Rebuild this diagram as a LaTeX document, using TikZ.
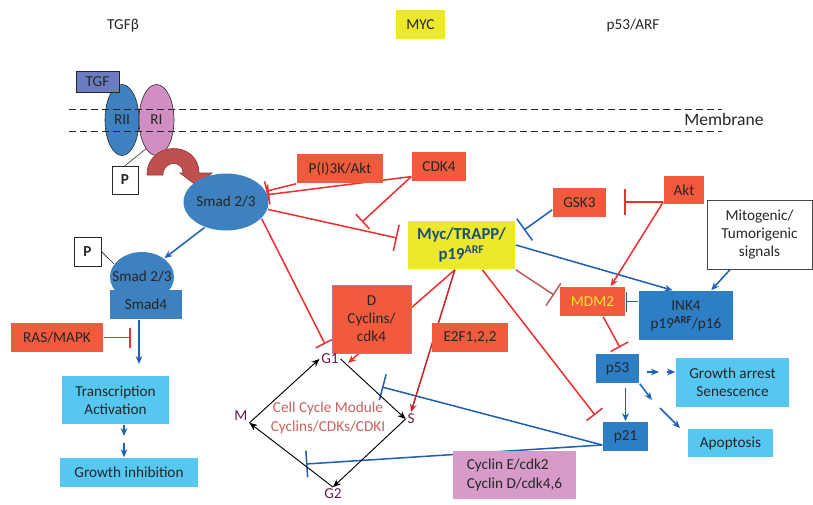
\documentclass[tikz,border=0pt]{standalone}
\usepackage{fontspec}
\setmainfont{Carlito}
\usetikzlibrary{arrows.meta, shapes.geometric}

\pgfdeclarelayer{background}
\pgfsetlayers{background,main}

\definecolor{txtgray}{HTML}{262626}
\definecolor{boxred}{HTML}{F15A3C}
\definecolor{linered}{HTML}{EE2F31}
\definecolor{darkred}{HTML}{C1262E}
\definecolor{brownred}{HTML}{B85C5C}
\definecolor{lineblue}{HTML}{2060B0}
\definecolor{smadblue}{HTML}{3D81C0}
\definecolor{boxblue}{HTML}{2E7EC5}
\definecolor{skyblue}{HTML}{55C7F1}
\definecolor{mycyellow}{HTML}{ECE82B}
\definecolor{myctext}{HTML}{1F4E79}
\definecolor{cycpink}{HTML}{D69BC8}
\definecolor{ripink}{HTML}{D18EC2}
\definecolor{tgfblue}{HTML}{6B7CC2}
\definecolor{phasetext}{HTML}{6A1B4D}
\definecolor{moduletext}{HTML}{C8615D}
\definecolor{mdmtext}{HTML}{FFE333}
\definecolor{curvred}{HTML}{C0504D}

\begin{document}
\begin{tikzpicture}[x=0.03cm, y=-0.03cm, >={Stealth[length=2.4mm,width=2mm]},
  line width=1.3pt, font=\fontsize{13}{15.5}\selectfont, text=txtgray,
  box/.style={rectangle, inner sep=0pt, align=center},
  redbox/.style={box, fill=boxred},
  bluebox/.style={box, fill=boxblue},
  skybox/.style={box, fill=skyblue},
  pbox/.style={box, draw=txtgray, fill=white, line width=0.6pt, font=\fontsize{13}{15.5}\selectfont\bfseries},
  phase/.style={inner sep=1pt, text=phasetext},
  act/.style={->, draw=lineblue},
  inh/.style={-{Bar[width=0.8cm]}},
  shortinh/.style={-{Bar[width=0.6cm]}},
  cycarrow/.style={->, draw=black, line width=0.8pt}]

\useasboundingbox (0,0) rectangle (813,504);

% Define coordinates
\coordinate (tx_in) at (139,364);
\coordinate (ras_end) at (131,337.5);
\coordinate (step_a) at (124,436);
\coordinate (step_b) at (124,443);
\coordinate (gsk_end) at (524,230);
\coordinate (ga_a) at (659,372);
\coordinate (ga_b) at (667,372);
\coordinate (apo_a) at (652,400);
\coordinate (apo_b) at (660,408);
\coordinate (apo_end) at (680,428);
\coordinate (s_bar) at (382,387);
\coordinate (g2_bar) at (306,464);
\coordinate (cdk_bar) at (362,222);
\coordinate (myc_bar) at (397,238);
\coordinate (g1_bar) at (325,344);
\coordinate (g1_in) at (348,363);
\coordinate (p21_bar) at (595,415);
\coordinate (akt_bar) at (624,202);
\coordinate (mdm_bar) at (554,295);

% Titles
\node (tgfb_title) at (123,26) {TGFβ};
\node[box, fill=mycyellow, minimum width=1.47cm, minimum height=0.87cm] (myc_title) at (420.5,24.5) {MYC};
\node (p53_title) at (633,25) {p53/ARF};

% Receptor in the membrane
\node[ellipse, draw=txtgray, line width=0.5pt, fill=smadblue, minimum width=1.02cm, minimum height=2.13cm, inner sep=0pt] (rii) at (122,120) {RII};
\node[ellipse, draw=txtgray, line width=0.5pt, fill=ripink, minimum width=1.05cm, minimum height=2.13cm, inner sep=0pt] (ri) at (156.5,120) {RI};
\node[box, draw=txtgray, line width=0.6pt, fill=tgfblue, minimum width=1.29cm, minimum height=0.63cm] (tgf) at (97.5,81.5) {TGF};
\draw[dash pattern=on 0.21cm off 0.12cm, line width=0.6pt, txtgray] (69,109) -- (722,109);
\draw[dash pattern=on 0.21cm off 0.12cm, line width=0.6pt, txtgray] (69,131) -- (722,131);
\node[font=\fontsize{15}{18}\selectfont] (membrane) at (724,119) {Membrane};

\node[pbox, minimum width=0.78cm, minimum height=0.84cm] (p_top) at (125,180) {P};
\draw[line width=0.5pt, txtgray] (p_top.north) -- (ri.250);

% Curved arrow to Smad
\filldraw[fill=curvred, draw=curvred!70!black, line width=0.5pt] (147,175) .. controls (147,140) and (199,140) .. (199,173)
  -- (212,173) -- (197,186) -- (180,173) -- (183,173) .. controls (183,160) and (163,160) .. (163,175) -- cycle;

% TGF-beta branch
\node[ellipse, fill=smadblue, minimum width=2.55cm, minimum height=1.71cm, inner sep=0pt, label=center:{Smad 2/3}] (smad_top) at (226,202) {};
\node[ellipse, fill=smadblue, minimum width=1.92cm, minimum height=1.5cm, inner sep=0pt, label=center:{Smad 2/3}] (smad_low) at (142,277) {};
\node[box, fill=smadblue, minimum width=2.16cm, minimum height=0.87cm] (smad4) at (146,304.5) {Smad4};
\node[pbox, minimum width=0.81cm, minimum height=0.87cm] (p_low) at (87.5,251.5) {P};
\draw[line width=0.5pt, txtgray] (p_low.east) -- (smad_low.155);
\node[redbox, minimum width=2.76cm, minimum height=0.87cm] (ras) at (57,337.5) {RAS/MAPK};
\node[skybox, minimum width=3.21cm, minimum height=1.44cm] (trans) at (115.5,400) {Transcription\\Activation};
\node[skybox, minimum width=4.14cm, minimum height=0.87cm] (growth_inh) at (129,472.5) {Growth inhibition};

% MYC branch
\node[redbox, minimum width=2.58cm, minimum height=0.87cm] (pik) at (340,168.5) {P(I)3K/Akt};
\node[redbox, minimum width=1.62cm, minimum height=0.87cm] (cdk4) at (439,166.5) {CDK4};
\node[box, fill=mycyellow, minimum width=3.21cm, minimum height=1.44cm, text=myctext, font=\fontsize{14.3}{17}\selectfont\bfseries] (myc) at (461.5,245) {Myc/TRAPP/\\p19\textsuperscript{ARF}};
\node[redbox, draw=ripink!85!black, line width=0.8pt, minimum width=2.37cm, minimum height=2.04cm] (dcyc) at (371.5,319) {D\\Cyclins/\\cdk4};
\node[redbox, minimum width=2.28cm, minimum height=0.87cm] (e2f) at (470,337.5) {E2F1,2,2};

% Cell cycle module
\node[phase] (g1) at (330,359) {G1};
\node[phase] (s) at (411,419) {S};
\node[phase] (m) at (241,416) {M};
\node[phase] (g2) at (333,494) {G2};
\node[text=moduletext, align=center] (module) at (328,418) {Cell Cycle Module\\Cyclins/CDKs/CDKI};
\draw[cycarrow] (m.south east) -- (g1.west);
\draw[cycarrow] (g1.east) -- (s.west);
\draw[cycarrow] (s.west) -- (g2.north);
\draw[cycarrow] (g2.north) -- (m.south east);

% p53/ARF branch
\node[redbox, minimum width=1.59cm, minimum height=0.87cm] (gsk3) at (579.5,202.5) {GSK3};
\node[redbox, minimum width=1.2cm, minimum height=0.84cm] (akt) at (684,190) {Akt};
\node[box, fill=white, draw=txtgray!85, line width=0.8pt, minimum width=3.15cm, minimum height=2.07cm] (mito) at (759.5,234.5) {Mitogenic/\\Tumorigenic\\signals};
\node[redbox, minimum width=1.95cm, minimum height=0.87cm, text=mdmtext] (mdm2) at (592.5,301.5) {MDM2};
\node[bluebox, minimum width=2.82cm, minimum height=1.47cm] (ink4) at (686,315.5) {INK4\\p19\textsuperscript{\bfseries ARF}/p16};
\node[bluebox, minimum width=1.29cm, minimum height=0.87cm] (p53) at (617.5,368.5) {p53};
\node[skybox, minimum width=3.39cm, minimum height=1.47cm] (growth_arr) at (732.5,382.5) {Growth arrest\\Senescence};
\node[skybox, minimum width=2.55cm, minimum height=0.84cm] (apo) at (730.5,443) {Apoptosis};
\node[bluebox, minimum width=1.35cm, minimum height=0.87cm] (p21) at (625.5,436.5) {p21};
\node[box, fill=cycpink, align=left, minimum width=3.69cm, minimum height=1.44cm] (cycE) at (514.5,475) {Cyclin E/cdk2\\Cyclin D/cdk4,6};

\begin{pgfonlayer}{background}
\begin{scope}[line width=1.3pt]
% Blue connectors
\draw[act] (smad_top.230) -- (smad_low.40);
\draw[act] (smad4.south -| tx_in) -- (tx_in);
\draw[act] (trans.south -| step_a) -- (step_a);
\draw[act] (step_b) -- (step_b |- growth_inh.north);
\draw[lineblue, inh] (gsk3.195) -- (gsk_end);
\draw[act] (myc.east) -- (ink4.118);
\draw[act] (mito.230) -- (ink4.45);
\draw[lineblue, shortinh] (ink4.west |- mdm2.east) -- (mdm2.east);
\draw[act, shorten <=0.21cm] (p53.east |- ga_a) -- (ga_a);
\draw[act] (ga_b) -- (growth_arr.west |- ga_b);
\draw[act] (p53.south east) -- (apo_a);
\draw[act] (apo_b) -- (apo_end);
\draw[act, shorten <=0.12cm] (p21.north |- p53.south) -- (p21.north);
\draw[lineblue, inh] (p21.200) -- (s_bar);
\draw[lineblue, inh] (p21.200) -- (g2_bar);

% Red connectors
\draw[linered, shortinh] (ras.east) -- (ras_end);
\draw[linered, shortinh] (pik.south west) -- (smad_top.15);
\draw[linered, shortinh] (cdk4.200) -- (smad_top.10);
\draw[linered, shortinh] (cdk4.200) -- (cdk_bar);
\draw[linered, inh] (smad_top.-10) -- (myc_bar);
\draw[linered, shortinh] (smad_top.-25) -- (g1_bar);
\draw[linered, ->] (myc.255) -- (g1_in);
\draw[darkred, ->] (myc.255) -- (s.north);
\draw[linered, shortinh] (myc.-50) -- (p21_bar);
\draw[linered, inh] (akt.south west |- akt_bar) -- (akt_bar);
\draw[linered, ->] (akt.south west |- akt_bar) -- (mdm2.40);
\draw[linered, shortinh, shorten >=0.2cm] (mdm2.-55) -- (p53.70);
\draw[brownred, inh] (myc.south east) -- (mdm_bar);
\end{scope}
\end{pgfonlayer}

\end{tikzpicture}
\end{document}
